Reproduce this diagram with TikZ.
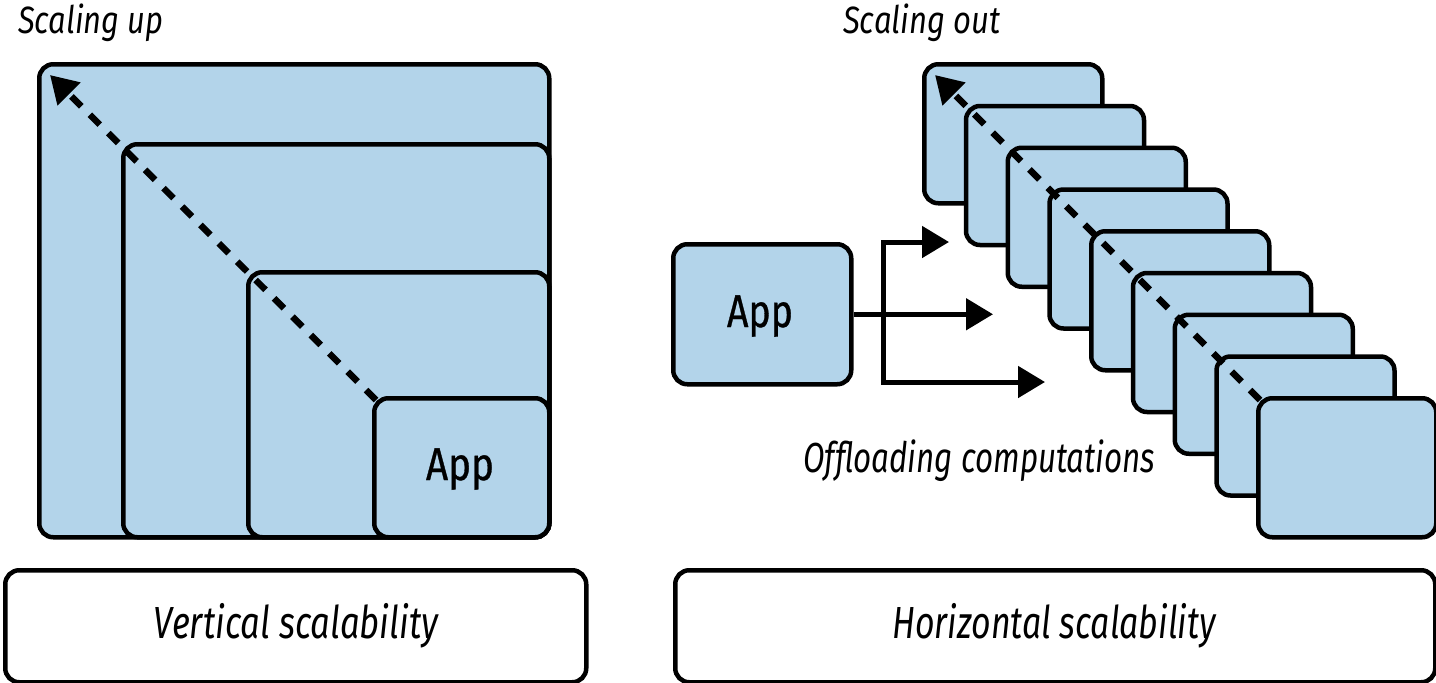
\documentclass[tikz,border=0pt]{standalone}
\usepackage{fontspec}
\setmainfont{Fira Sans}
\newfontfamily\appfont{Fira Sans}[FakeBold=0.8]
\usetikzlibrary{arrows.meta}
\definecolor{boxblue}{RGB}{179,212,234}
\newcommand\sqtext[3]{\resizebox{#1}{\height}{\fontsize{#2}{#2}\selectfont #3}}
\begin{document}
\begin{tikzpicture}[x=1pt,y=-1pt,
  bluebox/.style={draw=black, fill=boxblue, line width=4.5pt, rounded corners=14pt, anchor=north west, inner sep=0pt},
  labelbox/.style={draw=black, fill=white, line width=4.5pt, rounded corners=14pt, anchor=north west, inner sep=0pt},
  txt/.style={inner sep=0pt, anchor=base},
  txtw/.style={inner sep=0pt, anchor=base west},
  arr/.style={line width=5pt, -{Triangle[length=27pt,width=31pt]}},
  dasharr/.style={line width=6.5pt, dash pattern=on 14pt off 12pt, -{Triangle[length=27pt,width=31pt]}}
]
\useasboundingbox (0,0) rectangle (1436,683);

% ---- left: vertical scalability ----
\node[bluebox, minimum width=510pt, minimum height=473pt] (A) at (37,62) {};
\node[bluebox, minimum width=426pt, minimum height=393pt] (B) at (121,142) {};
\node[bluebox, minimum width=301pt, minimum height=265pt] (C) at (246,270) {};
\node[bluebox, minimum width=175pt, minimum height=139pt] (D) at (372,396) {};
\node[txt] (Dt) at (460,480) {\sqtext{68pt}{46}{\appfont App}};
\draw[dasharr] ([shift={(4pt,-4pt)}]D.north west) -- ([shift={(13pt,-13pt)}]A.north west);
\node[txtw] (su) at (18,33) {\sqtext{145pt}{38}{\itshape Scaling up}};
\node[labelbox, minimum width=581pt, minimum height=112pt] (L1) at (3,568) {};
\node[txt] (L1t) at (296,638) {\sqtext{284pt}{45}{\itshape Vertical scalability}};

% ---- right: horizontal scalability ----
\node[txtw] (so) at (843,33) {\sqtext{157pt}{38}{\itshape Scaling out}};
\foreach \k in {0,...,8}{
  \node[bluebox, minimum width=178pt, minimum height=139pt] (S\k) at ({922+41.75*\k},{62+41.75*\k}) {};
}
\draw[dasharr] ([shift={(4pt,-4pt)}]S8.north west) -- ([shift={(13pt,-13pt)}]S0.north west);

\node[bluebox, minimum width=178pt, minimum height=140pt] (app) at (671,242) {};
\node[txt] (appt) at (760,327) {\sqtext{66pt}{46}{\appfont App}};
\coordinate (j) at (883,312);
\coordinate (t1) at (949,242);
\coordinate (t2) at (993,312);
\coordinate (t3) at (1045,382);
\draw[arr] (app.east) -- (app.east -| t2);
\draw[arr] (app.east -| j) |- (t1);
\draw[arr] (app.east -| j) |- (t3);

\node[txtw] (off) at (803,472) {\sqtext{352pt}{42}{\itshape Offloading computations}};
\node[labelbox, minimum width=760pt, minimum height=112pt] (L2) at (673,568) {};
\node[txt] (L2t) at (1054,638) {\sqtext{323pt}{45}{\itshape Horizontal scalability}};
\end{tikzpicture}
\end{document}
